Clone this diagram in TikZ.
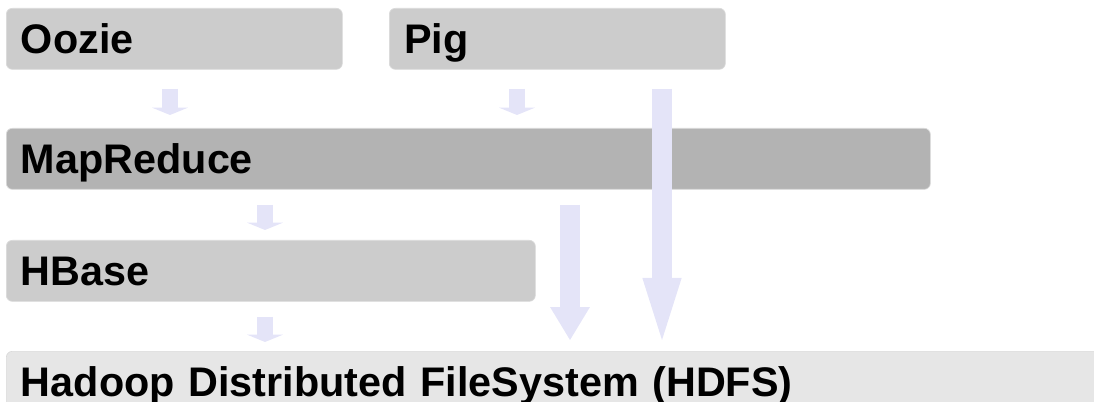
\documentclass[tikz,border=0pt]{standalone}
\usepackage{fontspec}
\setmainfont{Liberation Sans}
\usetikzlibrary{arrows.meta}
\definecolor{boxgray}{HTML}{CCCCCC}
\definecolor{darkgray}{HTML}{B3B3B3}
\definecolor{lightgray}{HTML}{E6E6E6}
\definecolor{edgegray}{HTML}{DADADA}
\definecolor{lav}{HTML}{E4E4F8}

\begin{document}
\begin{tikzpicture}[x=0.75pt, y=-0.75pt]
    \tikzstyle{box_style} = [draw=edgegray, line width=0.5pt, rounded corners=4.5pt, fill=boxgray,
        anchor=north west, minimum height=45.75pt, inner xsep=11pt, align=left,
        text height=22.2pt, text depth=0pt, font=\bfseries\fontsize{31}{31}\selectfont]
    \tikzstyle{arrow_small} = [lav, line width=11.5pt, -{Triangle[length=5.5pt, width=27pt, line width=0pt]}]
    \tikzstyle{arrow_long} = [lav, line width=14.5pt, -{Triangle[length=46.5pt, width=29.5pt, line width=0pt]}]
    \tikzstyle{arrow_mid} = [lav, line width=15pt, -{Triangle[length=24.75pt, width=30pt, line width=0pt]}]

    \useasboundingbox (0,0) rectangle (1094,402);

    \node[box_style, text width=230pt] (oozie) at (6,8) {Oozie};
    \node[box_style, text width=230pt] (pig) at (389,8) {Pig};
    \node[box_style, text width=671pt, fill=darkgray] (mapred) at (6,128) {MapReduce};
    \node[box_style, text width=374.75pt] (hbase) at (6,240) {HBase};
    \node[box_style, text width=830pt, fill=lightgray] (hdfs) at (6,351) {Hadoop Distributed FileSystem (HDFS)};

    \draw[arrow_small, shorten <=14.25pt, shorten >=9.75pt] (oozie.south -| 170,0) -- (mapred.north -| 170,0);
    \draw[arrow_small, shorten <=14.25pt, shorten >=9.75pt] (pig.south -| 517,0) -- (mapred.north -| 517,0);
    \draw[arrow_small, shorten <=11.25pt, shorten >=7.5pt] (mapred.south -| 265,0) -- (hbase.north -| 265,0);
    \draw[arrow_small, shorten <=11.25pt, shorten >=6.75pt] (hbase.south -| 265,0) -- (hdfs.north -| 265,0);
    \draw[arrow_mid, shorten <=11.25pt, shorten >=8.25pt] (mapred.south -| 570,0) -- (hdfs.north -| 570,0);
    \draw[arrow_long, shorten <=14.25pt, shorten >=8.25pt] (pig.south -| 662,0) -- (hdfs.north -| 662,0);
\end{tikzpicture}
\end{document}
